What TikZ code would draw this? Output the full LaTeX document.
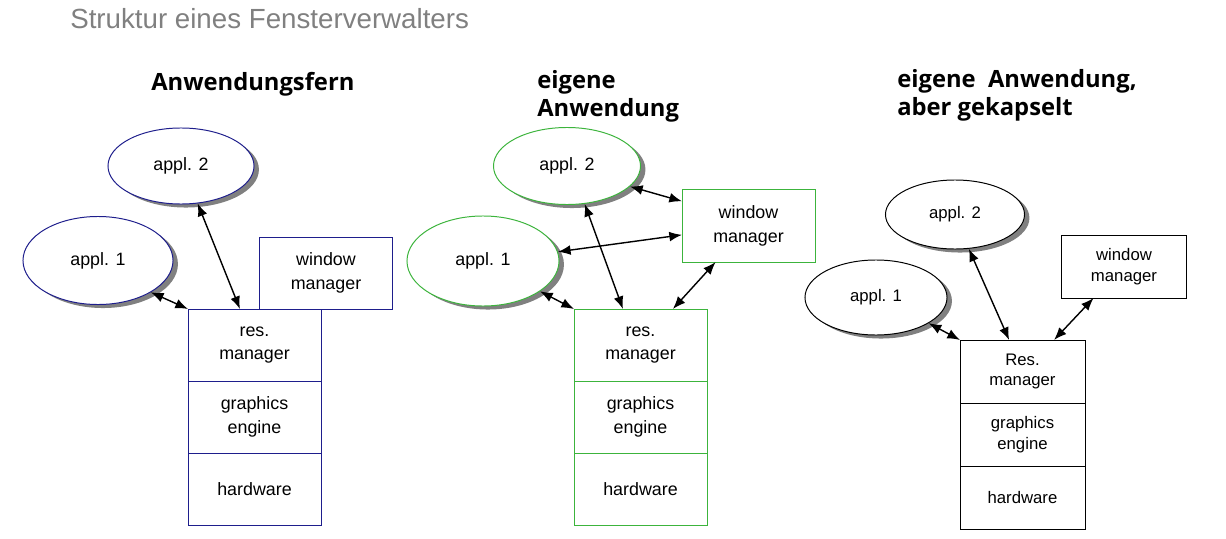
\documentclass[tikz,border=0pt]{standalone}
\usepackage{fontspec}
\setmainfont{Liberation Sans}
\newfontfamily\headfont{Open Sans}
\usetikzlibrary{positioning}
\usetikzlibrary{arrows.meta}
\usetikzlibrary{shapes.geometric}
\usetikzlibrary{shadows}
\definecolor{farblue}{RGB}{30,30,140}
\definecolor{owngreen}{RGB}{60,180,60}
\definecolor{titlegray}{RGB}{128,128,128}

\begin{document}
\begin{tikzpicture}[x=0.025cm, y=-0.025cm,
        appl/.style={draw, ellipse, fill=white, inner sep=0pt, line width=0.7pt,
            drop shadow={shadow xshift=3.5pt, shadow yshift=-2.5pt, fill=black!50, opacity=1}},
        box/.style={draw, rectangle, inner sep=0pt, outer sep=0pt, line width=0.65pt, align=center},
        big/.style={font=\fontsize{12.7}{17}\selectfont},
        small/.style={font=\fontsize{11.9}{14.5}\selectfont},
        farbox/.style={box, big, draw=farblue, minimum width=3.325cm, minimum height=1.8cm},
        ownbox/.style={box, big, draw=owngreen, minimum width=3.325cm, minimum height=1.8cm},
        capbox/.style={box, small, draw=black, minimum width=3.125cm, minimum height=1.575cm},
        heading/.style={font=\headfont\bfseries\fontsize{16.9}{19.9}\selectfont,
            anchor=base west, inner sep=0pt, align=left},
        link/.style={<->, >={Latex[length=9pt,width=7pt]}, line width=1pt}]
    \useasboundingbox (0,0) rectangle (1226,539);

    \node[anchor=base west, inner sep=0pt, text=titlegray,
          font=\fontsize{19.7}{24}\selectfont] (title) at (70,28) {Struktur eines Fensterverwalters};

    % Anwendungsfern
    \node[heading] (heada) at (151,90) {Anwendungsfern};
    \node[appl, big, draw=farblue, minimum width=3.65cm, minimum height=1.9cm] (appl2a) at (181,166) {appl. 2};
    \node[appl, big, draw=farblue, minimum width=3.75cm, minimum height=2.2cm] (appl1a) at (98,260.5) {appl. 1};
    \node[farbox] (wma) at (326,273) {window\\manager};
    \node[farbox] (resa) at (254.5,345) {res.\\manager};
    \node[farbox, below=0pt of resa] (gfxa) {graphics\\engine};
    \node[farbox, below=0pt of gfxa] (hwa) {hardware};
    \draw[link] (appl1a.-31) -- (resa.north west);
    \draw[link] (appl2a.-66) -- (resa.112);

    % eigene Anwendung
    \node[heading] (headb) at (537,116) {eigene\\Anwendung};
    \node[appl, big, draw=owngreen, minimum width=3.675cm, minimum height=1.925cm] (appl2b) at (567,166) {appl. 2};
    \node[appl, big, draw=owngreen, minimum width=3.8cm, minimum height=2.25cm] (appl1b) at (483,261) {appl. 1};
    \node[ownbox, minimum height=1.825cm] (wmb) at (748.5,225.5) {window\\manager};
    \node[ownbox] (resb) at (640.5,345) {res.\\manager};
    \node[ownbox, below=0pt of resb] (gfxb) {graphics\\engine};
    \node[ownbox, below=0pt of gfxb] (hwb) {hardware};
    \draw[link] (appl2b.-18) -- (wmb.160);
    \draw[link] (appl1b.7) -- (wmb.-172);
    \draw[link] (appl2b.-65) -- (resb.116);
    \draw[link] (appl1b.-28) -- (resb.north west);
    \draw[link] (wmb.-132) -- (resb.48);

    % eigene Anwendung, aber gekapselt
    \node[heading] (headc) at (897,115) {eigene~ Anwendung,\\aber gekapselt};
    \node[appl, small, draw=black, minimum width=3.475cm, minimum height=1.725cm] (appl2c) at (955,214.5) {appl. 2};
    \node[appl, small, draw=black, minimum width=3.55cm, minimum height=1.875cm] (appl1c) at (876,297.5) {appl. 1};
    \node[capbox] (wmc) at (1124,266.5) {window\\manager};
    \node[capbox] (resc) at (1022.5,371.5) {Res.\\manager};
    \node[capbox, below=0pt of resc] (gfxc) {graphics\\engine};
    \node[capbox, below=0pt of gfxc] (hwc) {hardware};
    \draw[link] (appl1c.-26) -- (resc.north west);
    \draw[link] (appl2c.-68) -- (resc.113);
    \draw[link] (wmc.-134) -- (resc.45);
\end{tikzpicture}
\end{document}
